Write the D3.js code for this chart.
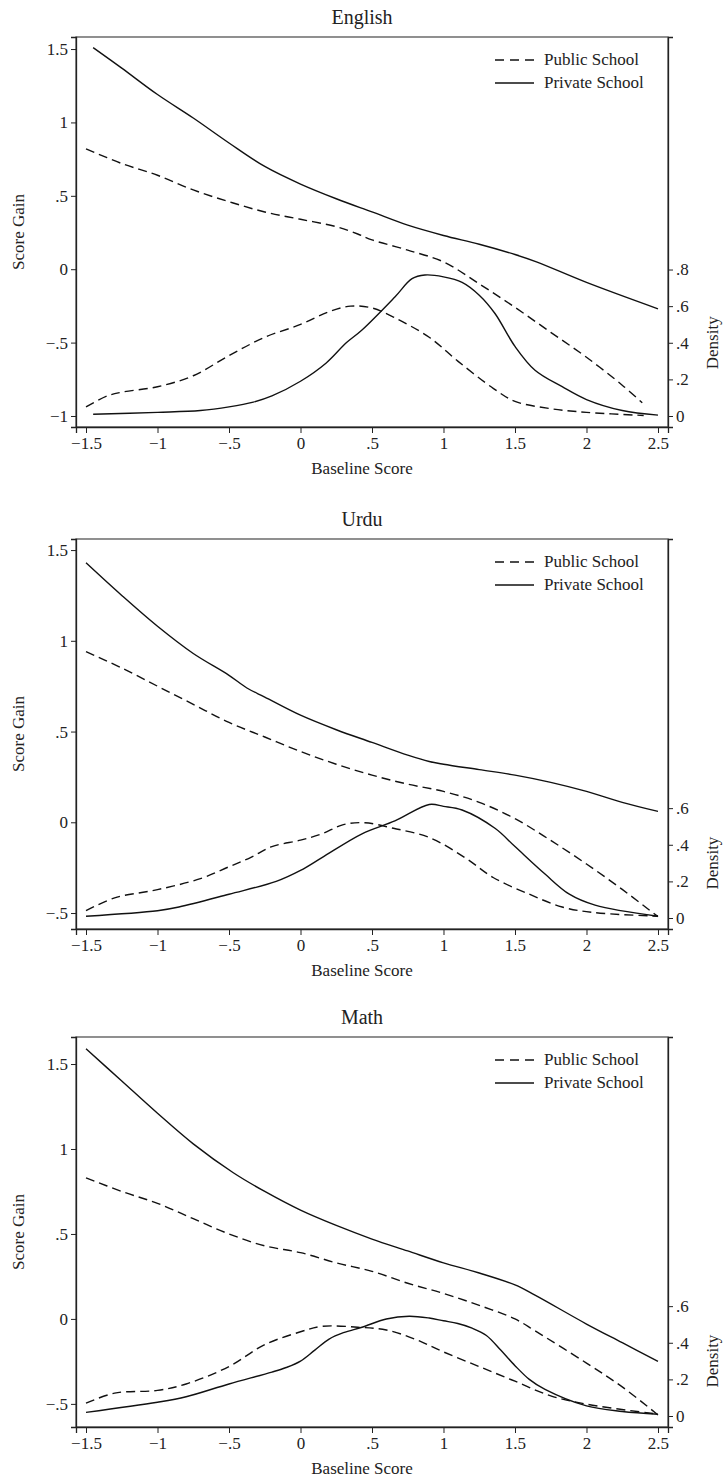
<!DOCTYPE html>
<html>
<head>
<meta charset="utf-8">
<script src="https://cdn.jsdelivr.net/npm/d3@7"></script>
<style>
  body { margin: 0; background: #fff; }
  svg text { font-family: "Liberation Serif", "DejaVu Serif", serif; fill: #222; }
</style>
</head>
<body>
<svg width="724" height="1479"></svg>
<script>
// subjects, one panel each
const subjects = ["English", "Urdu", "Math"];
const xTicks = [-1.5, -1, -0.5, 0, 0.5, 1, 1.5, 2, 2.5];
const gainTicks = [[-1, -0.5, 0, 0.5, 1, 1.5], [-0.5, 0, 0.5, 1, 1.5], [-0.5, 0, 0.5, 1, 1.5]];
const densityTicks = [[0, 0.2, 0.4, 0.6, 0.8], [0, 0.2, 0.4, 0.6], [0, 0.2, 0.4, 0.6]];
const seriesNames = ["Public School", "Private School"];

// English: score gain by baseline score
const engPublicGain = [[-1.5,0.82],[-1.25,0.72],[-1,0.64],[-0.75,0.54],[-0.5,0.46],[-0.25,0.39],[0,0.34],[0.25,0.29],[0.4,0.24],[0.5,0.2],[0.75,0.13],[1,0.05],[1.25,-0.1],[1.5,-0.26],[1.75,-0.43],[2,-0.6],[2.25,-0.79],[2.39,-0.91]];
const engPrivateGain = [[-1.45,1.51],[-1.25,1.37],[-1,1.19],[-0.75,1.03],[-0.5,0.86],[-0.25,0.7],[0,0.58],[0.25,0.48],[0.5,0.39],[0.75,0.3],[1,0.23],[1.25,0.17],[1.5,0.1],[1.65,0.05],[2,-0.09],[2.5,-0.27]];
// English: kernel density of baseline score
const engPublicDens = [[-1.5,0.05],[-1.35,0.11],[-1.25,0.13],[-1,0.16],[-0.75,0.22],[-0.5,0.33],[-0.25,0.43],[0,0.5],[0.2,0.57],[0.35,0.6],[0.5,0.59],[0.65,0.54],[0.9,0.43],[1.1,0.3],[1.35,0.15],[1.5,0.08],[1.75,0.04],[2,0.02],[2.4,0.003]];
const engPrivateDens = [[-1.45,0.01],[-1,0.02],[-0.7,0.03],[-0.5,0.05],[-0.33,0.076],[-0.2,0.11],[0,0.19],[0.18,0.29],[0.32,0.4],[0.43,0.47],[0.66,0.65],[0.78,0.75],[0.87,0.77],[1,0.76],[1.13,0.73],[1.25,0.66],[1.36,0.56],[1.5,0.38],[1.64,0.25],[1.83,0.16],[2,0.09],[2.25,0.03],[2.5,0.005]];

// Urdu
const urdPublicGain = [[-1.5,0.94],[-1.25,0.85],[-1,0.75],[-0.75,0.65],[-0.5,0.55],[-0.25,0.47],[0,0.39],[0.25,0.32],[0.5,0.26],[0.75,0.21],[1,0.17],[1.25,0.11],[1.5,0.02],[1.75,-0.1],[2,-0.23],[2.25,-0.37],[2.5,-0.52]];
const urdPrivateGain = [[-1.5,1.43],[-1.25,1.25],[-1,1.08],[-0.75,0.93],[-0.5,0.81],[-0.375,0.74],[-0.25,0.69],[0,0.59],[0.25,0.51],[0.5,0.44],[0.75,0.37],[0.9,0.335],[1,0.32],[1.25,0.29],[1.5,0.26],[1.75,0.22],[2,0.17],[2.25,0.11],[2.5,0.06]];
const urdPublicDens = [[-1.5,0.04],[-1.3,0.11],[-1,0.155],[-0.7,0.215],[-0.5,0.28],[-0.35,0.33],[-0.2,0.39],[0,0.425],[0.15,0.46],[0.3,0.51],[0.45,0.52],[0.65,0.49],[0.9,0.44],[1.15,0.33],[1.35,0.22],[1.6,0.13],[1.83,0.06],[2.05,0.03],[2.5,0.01]];
const urdPrivateDens = [[-1.5,0.01],[-1,0.04],[-0.85,0.06],[-0.5,0.13],[-0.17,0.2],[0,0.26],[0.15,0.33],[0.43,0.46],[0.66,0.53],[0.9,0.62],[1,0.61],[1.13,0.59],[1.36,0.49],[1.5,0.39],[1.71,0.24],[1.88,0.13],[2.06,0.07],[2.5,0.01]];

// Math
const matPublicGain = [[-1.5,0.83],[-1.25,0.75],[-1,0.68],[-0.75,0.59],[-0.5,0.5],[-0.25,0.43],[0,0.39],[0.25,0.33],[0.5,0.28],[0.75,0.21],[1,0.15],[1.25,0.08],[1.5,0],[1.64,-0.07],[2,-0.26],[2.25,-0.4],[2.5,-0.565]];
const matPrivateGain = [[-1.5,1.59],[-1.25,1.4],[-1,1.21],[-0.75,1.03],[-0.47,0.86],[-0.25,0.75],[0,0.64],[0.25,0.55],[0.5,0.47],[0.75,0.4],[1,0.33],[1.25,0.27],[1.5,0.2],[1.64,0.14],[2,-0.03],[2.25,-0.14],[2.5,-0.25]];
const matPublicDens = [[-1.5,0.07],[-1.3,0.125],[-1,0.14],[-0.8,0.175],[-0.5,0.27],[-0.25,0.39],[0,0.46],[0.15,0.49],[0.4,0.485],[0.6,0.47],[0.8,0.42],[1,0.35],[1.25,0.27],[1.5,0.19],[1.75,0.11],[2,0.065],[2.5,0.01]];
const matPrivateDens = [[-1.5,0.02],[-1,0.075],[-0.8,0.105],[-0.5,0.175],[-0.2,0.24],[-0.1,0.265],[0,0.3],[0.1,0.36],[0.2,0.42],[0.3,0.455],[0.43,0.485],[0.6,0.53],[0.76,0.545],[0.9,0.535],[1,0.52],[1.1,0.505],[1.2,0.48],[1.3,0.44],[1.4,0.36],[1.5,0.275],[1.6,0.2],[1.71,0.145],[2,0.055],[2.25,0.025],[2.5,0.01]];

const gainData = [[engPublicGain, engPrivateGain], [urdPublicGain, urdPrivateGain], [matPublicGain, matPrivateGain]];
const densData = [[engPublicDens, engPrivateDens], [urdPublicDens, urdPrivateDens], [matPublicDens, matPrivateDens]];
// score gain at bottom / top edge of each plot box
const gainExtent = [[-1.075, 1.582], [-0.588, 1.561], [-0.636, 1.659]];

const svg = d3.select("svg");
const left = 76, right = 668, boxH = 390;
const tops = [37, 539, 1037];
const dashes = ["9,5", null];

const fmt = d => d === 0 ? "0" : (d < 0 ? "\u2212" : "") + String(Math.abs(d)).replace(/^0\./, ".");

const x = d3.scaleLinear().domain([-1.57, 2.57]).range([left, right]);

subjects.forEach((name, i) => {
  const top = tops[i], bottom = top + boxH;
  const y = d3.scaleLinear().domain(gainExtent[i]).range([bottom, top]);
  const yd = d3.scaleLinear().domain([-0.06, 2.07]).range([bottom, top]);
  const g = svg.append("g");

  g.append("text").attr("x", 362).attr("y", top - 13)
    .attr("text-anchor", "middle").style("font-size", "20px").text(name);

  g.append("rect").attr("x", left).attr("y", top).attr("width", right - left).attr("height", boxH)
    .attr("fill", "none").attr("stroke", "#555").attr("stroke-width", 1.3);

  const xAxis = g.append("g").attr("transform", `translate(0,${bottom})`)
    .call(d3.axisBottom(x).tickValues(xTicks).tickFormat(fmt).tickSize(6).tickPadding(4));
  const yAxis = g.append("g").attr("transform", `translate(${left},0)`)
    .call(d3.axisLeft(y).tickValues(gainTicks[i]).tickFormat(fmt).tickSize(5).tickPadding(3));
  const dAxis = g.append("g").attr("transform", `translate(${right},0)`)
    .call(d3.axisRight(yd).tickValues(densityTicks[i]).tickFormat(fmt).tickSize(5).tickPadding(3));
  [xAxis, yAxis, dAxis].forEach(a => {
    a.select(".domain").attr("stroke", "#222").attr("stroke-width", 1.3);
    a.selectAll(".tick line").attr("stroke", "#222");
    a.selectAll(".tick text").style("font-size", "17px").attr("fill", "#222")
      .style("font-family", "'Liberation Serif', serif");
  });

  g.append("text").attr("x", 362).attr("y", bottom + 47)
    .attr("text-anchor", "middle").style("font-size", "17px").text("Baseline Score");
  g.append("text").attr("transform", `translate(24,${(top + bottom) / 2}) rotate(-90)`)
    .attr("text-anchor", "middle").style("font-size", "17px").text("Score Gain");
  const dMax = d3.max(densityTicks[i]);
  g.append("text").attr("transform", `translate(718,${(yd(0) + yd(dMax)) / 2}) rotate(-90)`)
    .attr("text-anchor", "middle").style("font-size", "17px").text("Density");

  const gainLine = d3.line().x(d => x(d[0])).y(d => y(d[1])).curve(d3.curveCatmullRom);
  const densLine = d3.line().x(d => x(d[0])).y(d => yd(d[1])).curve(d3.curveCatmullRom);

  [0, 1].forEach(s => {
    g.append("path").datum(gainData[i][s]).attr("d", gainLine)
      .attr("fill", "none").attr("stroke", "#111").attr("stroke-width", 1.4)
      .attr("stroke-dasharray", dashes[s]);
    g.append("path").datum(densData[i][s]).attr("d", densLine)
      .attr("fill", "none").attr("stroke", "#111").attr("stroke-width", 1.4)
      .attr("stroke-dasharray", dashes[s]);
  });

  // legend
  const lg = g.append("g").attr("transform", `translate(495,${top + 23})`);
  seriesNames.forEach((s, k) => {
    lg.append("line").attr("x1", 0).attr("x2", 39).attr("y1", k * 23).attr("y2", k * 23)
      .attr("stroke", "#111").attr("stroke-width", 1.4).attr("stroke-dasharray", k === 0 ? "9,6" : null);
    lg.append("text").attr("x", 49).attr("y", k * 23 + 5).style("font-size", "17px").text(s);
  });
});
</script>
</body>
</html>
